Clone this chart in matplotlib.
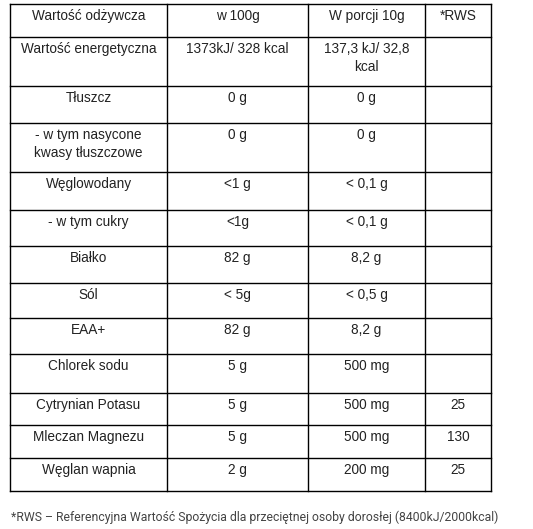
import matplotlib
matplotlib.use("Agg")
import matplotlib.pyplot as plt

header = ["Wartość odżywcza", "w 100g", "W porcji 10g", "*RWS"]
names = ["Wartość energetyczna", "Tłuszcz", "- w tym nasycone\nkwasy tłuszczowe", "Węglowodany",
         "- w tym cukry", "Białko", "Sól", "EAA+", "Chlorek sodu", "Cytrynian Potasu",
         "Mleczan Magnezu", "Węglan wapnia"]
per100 = ["1373kJ/ 328 kcal", "0 g", "0 g", "<1 g", "<1g", "82 g", "< 5g", "82 g", "5 g", "5 g", "5 g", "2 g"]
per10 = ["137,3 kJ/ 32,8\nkcal", "0 g", "0 g", "< 0,1 g", "< 0,1 g", "8,2 g", "< 0,5 g", "8,2 g",
         "500 mg", "500 mg", "500 mg", "200 mg"]
rws = ["", "", "", "", "", "", "", "", "", "25", "130", "25"]
footer = "*RWS – Referencyjna Wartość Spożycia dla przeciętnej osoby dorosłej (8400kJ/2000kcal)"

W, H = 533, 529
fig = plt.figure(figsize=(W/100, H/100), dpi=100)
ax = fig.add_axes([0, 0, 1, 1])
ax.set_xlim(0, W); ax.set_ylim(H, 0); ax.axis("off")

xs = [10, 167, 308, 425, 491]
ys = [4, 37, 86, 123, 172, 210, 246, 283, 318, 354, 393, 425, 458, 491]
for x in xs:
    ax.plot([x, x], [ys[0], ys[-1]], color="black", lw=1)
for y in ys:
    ax.plot([xs[0], xs[-1]], [y, y], color="black", lw=1)

rows = [header] + [list(r) for r in zip(names, per100, per10, rws)]
for i, row in enumerate(rows):
    for j, t in enumerate(row):
        cx = (xs[j] + xs[j+1]) / 2
        ax.text(cx, ys[i] + 5, t, ha="center", va="top", fontsize=9.8,
                family="Liberation Sans", color="#222222", linespacing=1.4)

ax.text(11, 517, footer, ha="left", va="center", fontsize=8.8, family="Roboto",
        color="#444444", fontstretch="condensed")
fig.savefig("out.png", dpi=100, facecolor="white")
